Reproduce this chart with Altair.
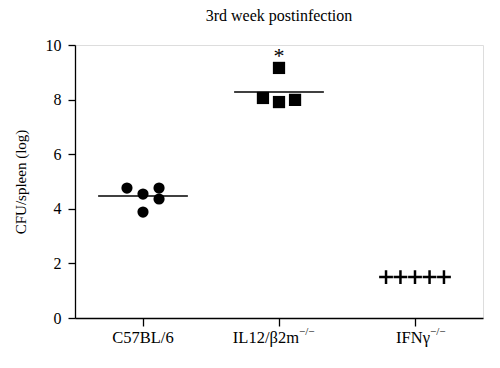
import altair as alt
import pandas as pd

groups = ["C57BL/6", "IL12/β2m", "IFNγ"]
sups = ["", "−/−", "−/−"]

c57_vals = [4.76, 4.54, 4.76, 4.36, 3.88]
c57_jit = [-0.118, 0.0, 0.118, 0.118, 0.0]
il12_vals = [9.16, 8.06, 7.91, 7.99]
il12_jit = [0.0, -0.118, 0.0, 0.118]
ifn_vals = [1.5, 1.5, 1.5, 1.5, 1.5]
ifn_jit = [-0.213, -0.107, 0.0, 0.107, 0.213]
medians = [4.47, 8.28]
median_half = 0.33
star_y = 9.74

FONT = "Liberation Serif"
W, H = 408, 273

def pts(idx, vals, jit):
    return pd.DataFrame({"x": [idx + j for j in jit], "y": vals})

c57 = pts(0, c57_vals, c57_jit)
il12 = pts(1, il12_vals, il12_jit)
ifn = pts(2, ifn_vals, ifn_jit)
med = pd.DataFrame({"x": [i - median_half for i in range(2)],
                    "x2": [i + median_half for i in range(2)],
                    "y": medians})
star = pd.DataFrame({"x": [1], "y": [star_y], "t": ["*"]})
labs = pd.DataFrame({"x": [0, 1, 2], "base": groups, "sup": sups})

xscale = alt.Scale(domain=[-0.5, 2.5], nice=False, zero=False)
yscale = alt.Scale(domain=[0, 10], nice=False)

xaxis = alt.Axis(values=[0, 1, 2], labels=False, ticks=True, tickSize=8,
                 domainColor="black", tickColor="black", grid=False, title=None,
                 domainWidth=1.3, tickWidth=1.3)
yaxis = alt.Axis(values=[0, 2, 4, 6, 8, 10], tickSize=7, grid=False,
                 domainColor="black", tickColor="black", domainWidth=1.3, tickWidth=1.3,
                 labelFontSize=16, labelFont=FONT, labelColor="black", labelPadding=7,
                 title="CFU/spleen (log)", titleFont=FONT, titleFontSize=15,
                 titleFontWeight="normal", titleColor="black", titlePadding=17)

base_x = alt.X("x:Q", scale=xscale, axis=xaxis)
base_y = alt.Y("y:Q", scale=yscale, axis=yaxis)

circles = alt.Chart(c57).mark_point(shape="circle", filled=True, color="black",
                                     size=125, opacity=1).encode(x=base_x, y=base_y)
squares = alt.Chart(il12).mark_point(shape="square", filled=True, color="black",
                                      size=150, opacity=1).encode(x="x:Q", y="y:Q")
plus_path = "M-1,-0.18H-0.18V-1H0.18V-0.18H1V0.18H0.18V1H-0.18V0.18H-1Z"
pluses = alt.Chart(ifn).mark_point(shape=plus_path, filled=True, color="black",
                                    size=190, opacity=1).encode(x="x:Q", y="y:Q")
rules = alt.Chart(med).mark_rule(color="black", strokeWidth=1.5).encode(
    x="x:Q", x2="x2:Q", y="y:Q")
stars = alt.Chart(star).mark_text(font=FONT, fontSize=22, color="black",
                                  baseline="middle", dy=4).encode(x="x:Q", y="y:Q", text="t:N")

lab0 = alt.Chart(labs[labs.x == 0]).mark_text(font=FONT, fontSize=16.5, color="black",
                                              align="center", baseline="alphabetic").encode(
    x="x:Q", y=alt.value(H + 25), text="base:N")
lab1 = alt.Chart(labs[labs.x == 1]).mark_text(font=FONT, fontSize=16.5, color="black",
                                              align="right", baseline="alphabetic", dx=20).encode(
    x="x:Q", y=alt.value(H + 25), text="base:N")
sup1 = alt.Chart(labs[labs.x == 1]).mark_text(font=FONT, fontSize=11, color="black",
                                              align="left", baseline="alphabetic", dx=20).encode(
    x="x:Q", y=alt.value(H + 17), text="sup:N")
lab2 = alt.Chart(labs[labs.x == 2]).mark_text(font=FONT, fontSize=16.5, color="black",
                                              align="right", baseline="alphabetic", dx=15).encode(
    x="x:Q", y=alt.value(H + 25), text="base:N")
sup2 = alt.Chart(labs[labs.x == 2]).mark_text(font=FONT, fontSize=11, color="black",
                                              align="left", baseline="alphabetic", dx=15).encode(
    x="x:Q", y=alt.value(H + 17), text="sup:N")

chart = alt.layer(circles, squares, pluses, rules, stars, lab0, lab1, sup1, lab2, sup2).properties(
    width=W, height=H,
    title=alt.TitleParams("3rd week postinfection", font=FONT, fontSize=16,
                          fontWeight="normal", color="black", offset=13),
    autosize=alt.AutoSizeParams(type="none"),
    padding={"left": 67, "top": 37, "right": 9, "bottom": 42},
).configure_view(stroke=None).configure(background="white", font=FONT)

chart.save("out.html", embed_options={"renderer": "svg", "actions": False})
